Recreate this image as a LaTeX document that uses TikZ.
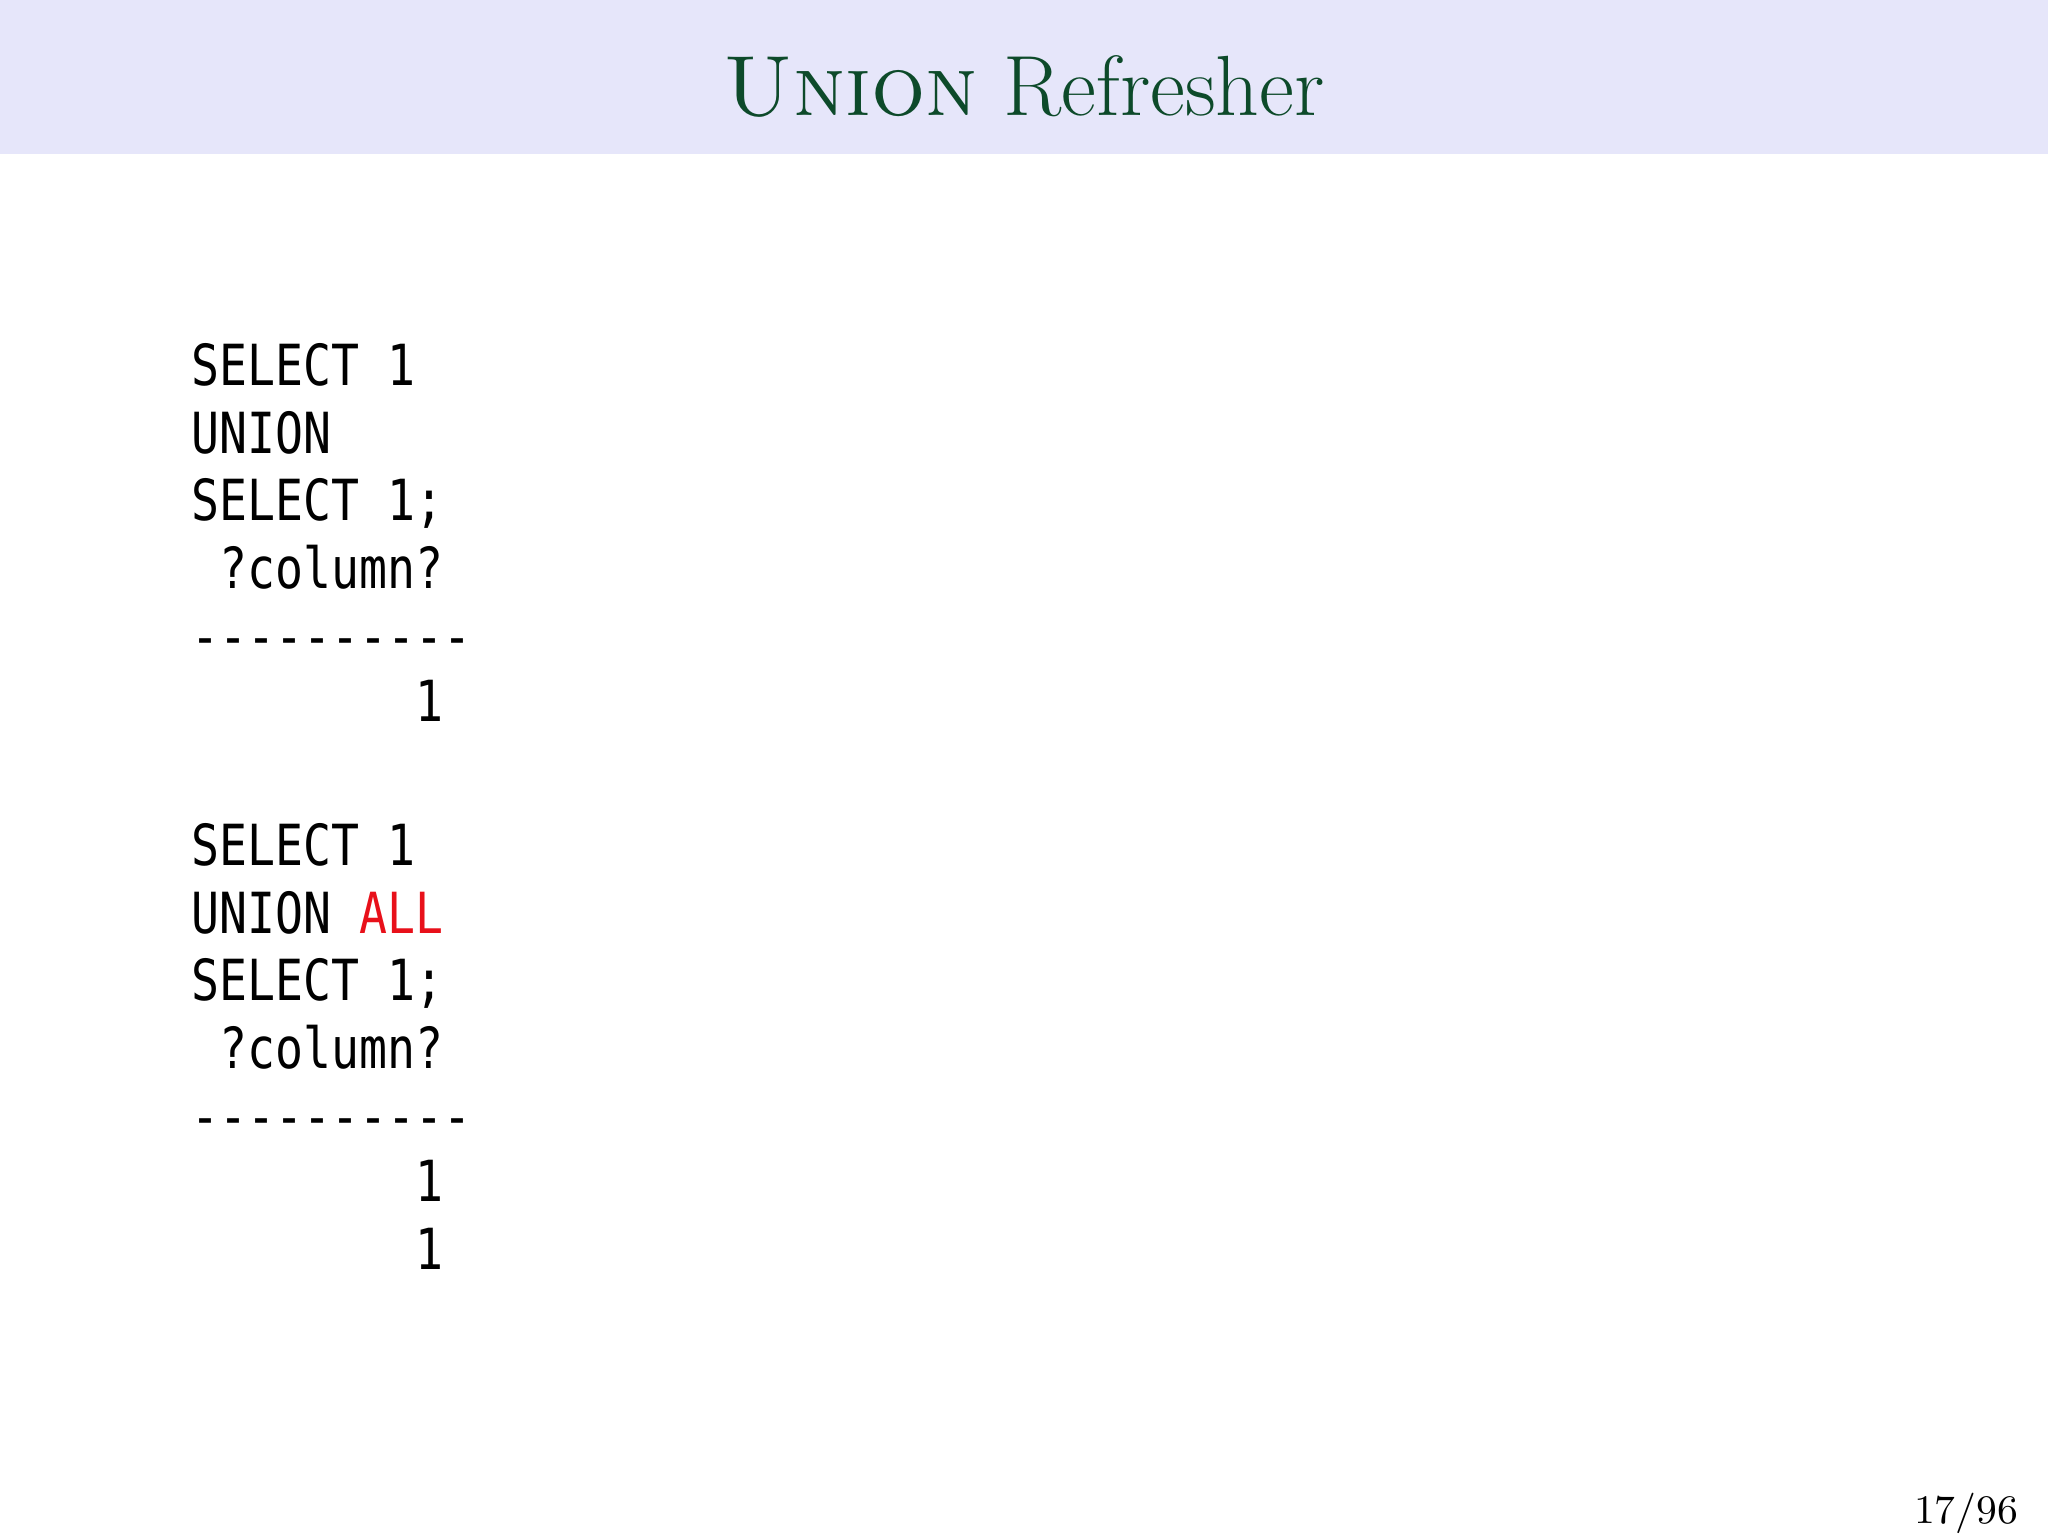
\documentclass[tikz,border=0pt]{standalone}
\usepackage{fontspec}
\usepackage{xcolor}
\newfontfamily\codefont[FakeStretch=0.82]{DejaVu Sans Mono}
\definecolor{headbg}{HTML}{E6E6FA}
\definecolor{titlegreen}{HTML}{0D4A2A}
\definecolor{kwred}{HTML}{E8101A}
\usetikzlibrary{positioning}
\begin{document}
\begin{tikzpicture}[%
	code/.style={anchor=base west, inner sep=0pt, font=\codefont\fontsize{12.6}{15}\selectfont},
	title/.style={anchor=base, inner sep=0pt, text=titlegreen, font=\fontsize{19}{22}\selectfont}
	]
	\useasboundingbox (0,0) rectangle (16,12);
	\fill[headbg] (0,10.8) rectangle (16,12);
	%
	% Title
	%
	\node[title] (TITLE) at (8,11.1) {\textsc{Union} Refresher};
	%
	% First query
	%
	\node[code] (UA) at (1.49,8.99) {SELECT 1};
	\node[code] (UB) at (1.49,8.46) {UNION};
	\node[code] (UC) at (1.49,7.93) {SELECT 1;};
	\node[code] (UD) at (1.49,7.40) {\phantom{0}?column?};
	\node[code] (UE) at (1.49,6.87) {----------};
	\node[code] (UF) at (1.49,6.36) {\phantom{00000000}1};
	%
	% Second query
	%
	\node[code] (AA) at (1.49,5.24) {SELECT 1};
	\node[code] (AB) at (1.49,4.71) {UNION \textcolor{kwred}{ALL}};
	\node[code] (AC) at (1.49,4.18) {SELECT 1;};
	\node[code] (AD) at (1.49,3.65) {\phantom{0}?column?};
	\node[code] (AE) at (1.49,3.12) {----------};
	\node[code] (AF) at (1.49,2.61) {\phantom{00000000}1};
	\node[code] (AG) at (1.49,2.08) {\phantom{00000000}1};
	%
	% Page number
	%
	\node[anchor=base, inner sep=0pt, font=\small] (PAGE) at (15.36,0.1) {17/96};
\end{tikzpicture}
\end{document}
